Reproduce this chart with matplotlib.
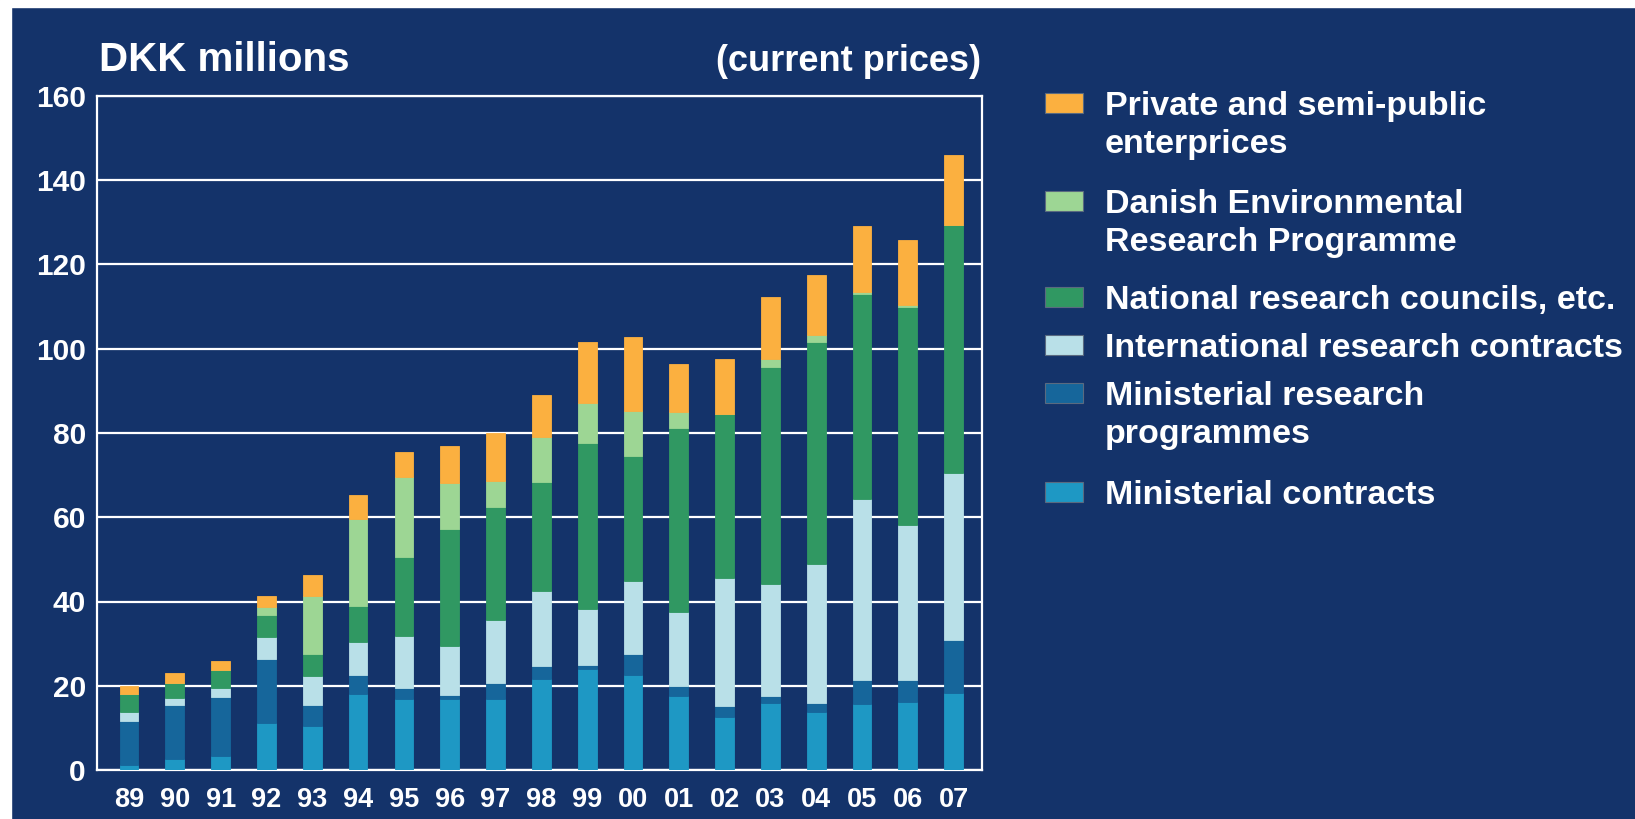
import matplotlib
matplotlib.use("Agg")
import matplotlib.pyplot as plt
from matplotlib.patches import Rectangle
import numpy as np

NAVY = "#14336a"
FONT = "Liberation Sans"

years = ["89", "90", "91", "92", "93", "94", "95", "96", "97", "98",
         "99", "00", "01", "02", "03", "04", "05", "06", "07"]

# stacked from the bottom up
min_contracts = [1.1, 2.5, 3.3, 11.2, 10.4, 18.1, 16.8, 16.8, 16.8, 21.7,
                 23.9, 22.6, 17.6, 12.5, 16.0, 13.8, 15.6, 16.2, 18.3]
min_programmes = [10.6, 13.0, 14.1, 15.1, 5.1, 4.5, 2.6, 1.0, 3.9, 3.0,
                  1.0, 5.0, 2.3, 2.6, 1.6, 2.2, 5.8, 5.2, 12.5]
intl_contracts = [2.1, 1.6, 2.0, 5.3, 6.9, 7.8, 12.3, 11.6, 14.9, 17.8,
                  13.3, 17.2, 17.6, 30.4, 26.6, 32.9, 42.9, 36.7, 39.8]
national = [4.3, 3.6, 4.3, 5.1, 5.2, 8.5, 18.8, 27.7, 26.8, 25.8,
            39.4, 29.8, 43.8, 38.9, 51.5, 52.7, 48.6, 51.7, 58.7]
derp = [0.0, 0.0, 0.0, 2.0, 13.6, 20.7, 19.1, 11.0, 6.2, 10.7,
        9.6, 10.7, 3.6, 0.0, 1.9, 1.6, 0.6, 0.7, 0.0]
private = [1.9, 2.4, 2.1, 2.6, 5.0, 5.8, 5.8, 8.9, 11.4, 10.0,
           14.4, 17.6, 11.4, 13.2, 14.6, 14.3, 15.6, 15.3, 16.8]

series = [
    ("Ministerial contracts", min_contracts, "#1e98c4"),
    ("Ministerial research\nprogrammes", min_programmes, "#16669b"),
    ("International research contracts", intl_contracts, "#b9e0e8"),
    ("National research councils, etc.", national, "#309862"),
    ("Danish Environmental\nResearch Programme", derp, "#9dd694"),
    ("Private and semi-public\nenterprices", private, "#fbb040"),
]

W, H = 1635, 819
fig = plt.figure(figsize=(W / 100, H / 100), dpi=100, facecolor=NAVY)
# white strips along top and left edge
fig.patches.append(Rectangle((0, 1 - 7 / H), 1, 7 / H, transform=fig.transFigure,
                             color="white", zorder=0))
fig.patches.append(Rectangle((0, 0), 11 / W, 1, transform=fig.transFigure,
                             color="white", zorder=0))

ax = fig.add_axes([97 / W, 1 - 770 / H, (982 - 97) / W, (770 - 96) / H])
ax.set_facecolor(NAVY)

x = np.arange(len(years))
bottom = np.zeros(len(years))
for name, vals, col in series:
    vals = np.array(vals)
    ax.bar(x, vals, 0.41, bottom=bottom, color=col, edgecolor=col,
           linewidth=0.6, zorder=3)
    bottom += vals

ax.set_ylim(0, 160)
ax.set_xlim(-0.70, 18.62)
ax.set_yticks(range(0, 161, 20))
ax.set_xticks(x)
ax.set_xticklabels(years)
ax.yaxis.grid(True, color="white", linewidth=1.6, zorder=1)
ax.tick_params(length=0, colors="white")
ax.tick_params(axis="x", pad=12, labelsize=19.5)
ax.tick_params(axis="y", pad=8, labelsize=21.5)
for lab in ax.get_xticklabels() + ax.get_yticklabels():
    lab.set_fontfamily(FONT)
    lab.set_fontweight("bold")
for s in ax.spines.values():
    s.set_color("white")
    s.set_linewidth(1.6)

fig.text(99 / W, 1 - 71 / H, "DKK millions", color="white", fontsize=29,
         fontweight="bold", family=FONT, va="baseline", ha="left")
fig.text(981 / W, 1 - 71 / H, "(current prices)", color="white", fontsize=26,
         fontweight="bold", family=FONT, va="baseline", ha="right")

# legend drawn by hand, top entry first
leg_y = [103, 201, 297, 345, 393, 492]
for (name, vals, col), yc in zip(series[::-1], leg_y):
    fig.patches.append(Rectangle((1045 / W, 1 - (yc + 10) / H), 38 / W, 20 / H,
                                 transform=fig.transFigure, facecolor=col,
                                 edgecolor="#5a6a80", linewidth=0.8))
    for i, line in enumerate(name.split("\n")):
        fig.text(1105 / W, 1 - (yc + 12 + 38.5 * i) / H, line, color="white",
                 fontsize=24.5, fontweight="bold", family=FONT,
                 va="baseline", ha="left")

fig.savefig("out.png", dpi=100, facecolor=NAVY)
